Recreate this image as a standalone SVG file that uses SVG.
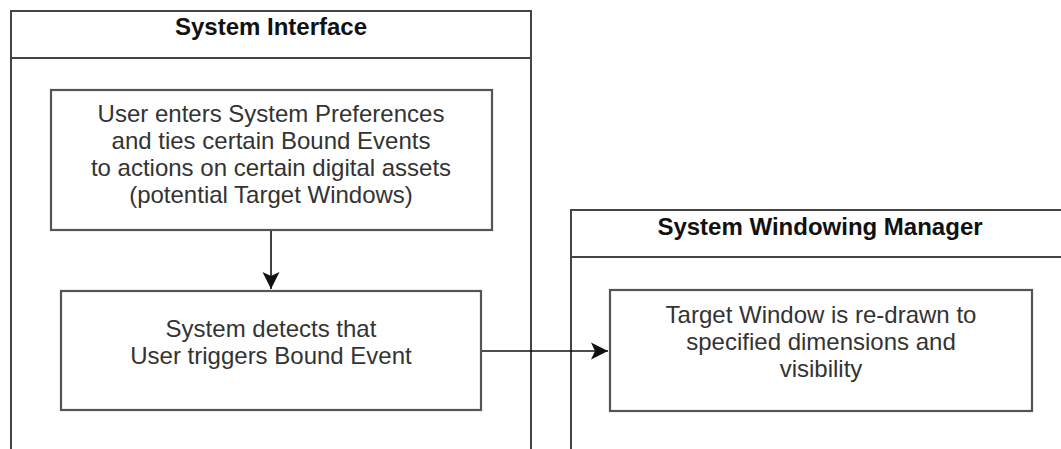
<svg xmlns="http://www.w3.org/2000/svg" width="1061" height="449" viewBox="0 0 1061 449">
  <defs>
    <marker id="arrow" viewBox="0 0 18 18" refX="17" refY="9" markerWidth="18" markerHeight="18" markerUnits="userSpaceOnUse" orient="auto">
      <path d="M17,9 L0,0.5 L4,9 L0,17.5 Z" fill="#111"/>
    </marker>
  </defs>
  <style>
    .pool { fill: #ffffff; stroke: #444; stroke-width: 2; }
    .box { fill: #ffffff; stroke: #555; stroke-width: 2.2; }
    .title { font-family: "Liberation Sans", Arial, sans-serif; font-size: 24px; font-weight: bold; fill: #111; text-anchor: middle; }
    .label { font-family: "Liberation Sans", Arial, sans-serif; font-size: 24px; fill: #333; text-anchor: middle; }
    .edge { fill: none; stroke: #111; stroke-width: 1.6; }
  </style>
  <rect x="0" y="0" width="1061" height="449" fill="#ffffff"/>

  <!-- Swimlane: System Interface -->
  <g id="pool-system-interface">
    <rect class="pool" x="11" y="11" width="520" height="450"/>
    <line class="pool" x1="11" y1="58" x2="531" y2="58"/>
    <text class="title" x="271" y="35">System Interface</text>
  </g>

  <!-- Swimlane: System Windowing Manager -->
  <g id="pool-windowing-manager">
    <rect class="pool" x="571" y="210" width="520" height="260"/>
    <line class="pool" x1="571" y1="257" x2="1091" y2="257"/>
    <text class="title" x="820" y="235">System Windowing Manager</text>
  </g>

  <g id="node-preferences">
    <rect class="box" x="51" y="90" width="441" height="140"/>
    <text class="label" x="271" y="122">User enters System Preferences</text>
    <text class="label" x="271" y="149">and ties certain Bound Events</text>
    <text class="label" x="271" y="176">to actions on certain digital assets</text>
    <text class="label" x="271" y="203">(potential Target Windows)</text>
  </g>

  <g id="node-detect">
    <rect class="box" x="61" y="291" width="420" height="119"/>
    <text class="label" x="271" y="337">System detects that</text>
    <text class="label" x="271" y="364">User triggers Bound Event</text>
  </g>

  <g id="node-redraw">
    <rect class="box" x="610" y="290" width="422" height="121"/>
    <text class="label" x="821" y="323">Target Window is re-drawn to</text>
    <text class="label" x="821" y="350">specified dimensions and</text>
    <text class="label" x="821" y="377">visibility</text>
  </g>

  <g id="connectors">
    <line class="edge" x1="271" y1="231" x2="271" y2="289" marker-end="url(#arrow)"/>
    <line class="edge" x1="482" y1="351" x2="608" y2="351" marker-end="url(#arrow)"/>
  </g>
</svg>
